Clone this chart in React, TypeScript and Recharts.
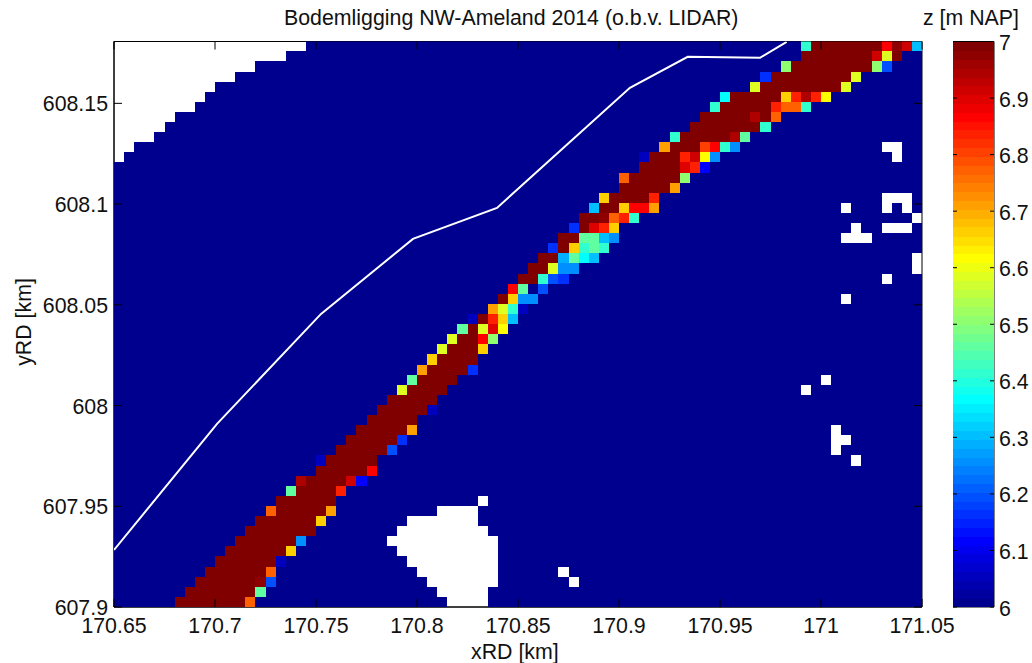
import React from 'react';
import { ScatterChart, Scatter, XAxis, YAxis, ReferenceArea } from 'recharts';

const FONT = '"Liberation Sans", Arial, sans-serif';
const W = 1032, H = 663;
const PL = 114, PR = 922, PT = 41.5, PB = 607;
const CBL = 953, CBR = 994;

const xTicks = [170.65, 170.7, 170.75, 170.8, 170.85, 170.9, 170.95, 171, 171.05];
const yTicks = [607.9, 607.95, 608, 608.05, 608.1, 608.15];
const cTicks = [6, 6.1, 6.2, 6.3, 6.4, 6.5, 6.6, 6.7, 6.8, 6.9, 7];
const X0 = 170.65, Y0 = 607.9, STEP_X = 0.005, STEP_Y = 0.005015, NCOL = 80, NROW = 56;
const Y_TOP = 608.1807;

// z value for each symbol used in bandCells
const zBySymbol: Record<string, number> = {
  '.': 6, d: 6.05, n: 6.12, N: 6.16, B: 6.2, b: 6.265, a: 6.29, s: 6.31, c: 6.37, t: 6.42,
  G: 6.46, g: 6.515, l: 6.58, Y: 6.62, y: 6.66, O: 6.71, o: 6.78, h: 6.81, '1': 6.84,
  r: 6.87, S: 6.9, R: 6.92, D: 6.95, E: 6.98, M: 7,
};
// first column of the dune band for each row, bottom row first
const bandStart = [6, 7, 8, 9, 10, 11, 12, 13, 14, 15, 16, 17, 18, 20, 20, 22, 23, 24, 25, 26, 27, 28, 29, 30, 31, 32, 33, 34, 35, 37, 38, 39, 40, 41, 42, 43, 44, 45, 46, 47, 48, 50, 50, 52, 52, 54, 55, 57, 58, 59, 60, 63, 64, 66, 68, 68];
const bandCells = [
  'MMMMMMMo', 'MMMMMMMG', 'MMMMMMEB', 'MMMMMMo', 'MMMMMMd', 'MMMMMMy', 'MMMMMMb', 'MMMMMMM',
  'MMMMMMy', 'oMMMMMO', 'MMMMMM', 'GMMMM1', 'DMMMMRn', 'MMMMMr', 'dMMMMM', 'MMMMMB',
  'MMMMMN', 'MMMMMO', 'MMMMM', 'MMMMMd', 'MMMMM', 'lMMMM', 'GMMMM', 'OMMMMN',
  'yMMMM', 'lMMMy', 'lMMrg', 'GMlSY', 'dM1ys', 'Oltd', 'Mybb', 'rG.B',
  'MMtBN', 'MMlbb', 'MMaGcs', 'NMytGt', 'MMGGsb', 'NMS1y', 'MMEo1t', 'sMMyrrO',
  'yMMMM1', 'MMMMMO', 'oMMMMMg', 'MMMMS1n', 'dMMM1RYb', 'OMMMhrtb', 'tMMMMMDG', 'MMMMMMMt',
  'MMMMMDMo', 'tMMMMM1oot', 'cMMMMMy1D1Y', 'lMMMMMMMMl', 'NMMMMMMMMl', 'gMMMMMMMMgB', 'MMMMMMMRlM', 'tMMMMMMMrERs',
];
// cells without data: [row, first column, last column]
const gaps = [
  [55, 0, 18], [54, 0, 16], [53, 0, 13], [52, 0, 11], [51, 0, 9], [50, 0, 8], [49, 0, 7], [48, 0, 5], [47, 0, 4], [46, 0, 3], [45, 0, 1], [44, 0, 0],
  [10, 36, 36], [9, 32, 35], [8, 29, 35], [7, 28, 36], [6, 27, 37], [5, 28, 37], [4, 29, 37], [3, 30, 37], [2, 31, 37], [1, 32, 36], [0, 33, 36],
  [3, 44, 44], [2, 45, 45],
  [21, 68, 68], [22, 70, 70], [17, 71, 71], [16, 71, 72], [15, 71, 71], [14, 73, 73],
  [45, 76, 77], [44, 77, 77], [40, 76, 78], [39, 76, 76], [39, 78, 78], [38, 79, 79], [37, 76, 78],
  [39, 72, 72], [37, 73, 73], [36, 72, 74], [34, 79, 79], [33, 79, 79], [32, 76, 76], [30, 72, 72],
];
const lineX = [170.65, 170.701, 170.7525, 170.798, 170.8396, 170.9054, 170.934, 170.9698, 170.983];
const lineY = [607.9283, 607.9909, 608.0455, 608.0827, 608.0981, 608.1577, 608.1731, 608.1726, 608.1805];
const colorLevels = [6.008, 6.023, 6.039, 6.055, 6.070, 6.086, 6.102, 6.117, 6.133, 6.148, 6.164, 6.180, 6.195, 6.211, 6.227, 6.242, 6.258, 6.273, 6.289, 6.305, 6.320, 6.336, 6.352, 6.367, 6.383, 6.398, 6.414, 6.430, 6.445, 6.461, 6.477, 6.492, 6.508, 6.523, 6.539, 6.555, 6.570, 6.586, 6.602, 6.617, 6.633, 6.648, 6.664, 6.680, 6.695, 6.711, 6.727, 6.742, 6.758, 6.773, 6.789, 6.805, 6.820, 6.836, 6.852, 6.867, 6.883, 6.898, 6.914, 6.930, 6.945, 6.961, 6.977, 6.992];

function jet(z: number): string {
  const idx = Math.max(0, Math.min(63, Math.floor((z - 6) * 64)));
  const v = (idx + 1) / 64;
  const ch = (c: number) => Math.round(255 * Math.max(0, Math.min(1, 1.5 - Math.abs(4 * v - c))));
  return `rgb(${ch(3)},${ch(2)},${ch(1)})`;
}

const isGap = (r: number, c: number) => gaps.some(([gr, a, b]) => gr === r && c >= a && c <= b);
const cells: { x: number; y: number; z: number }[] = [];
for (let r = 0; r < NROW; r++) {
  for (let c = 0; c < NCOL; c++) {
    if (isGap(r, c)) continue;
    const sym = bandCells[r][c - bandStart[r]];
    cells.push({ x: X0 + STEP_X * (c + 0.5), y: Y0 + STEP_Y * (r + 0.5), z: sym ? zBySymbol[sym] : zBySymbol['.'] });
  }
}
const shoreline = lineX.map((x, i) => ({ x, y: lineY[i] }));
const colorCells = colorLevels.map((y) => ({ x: 0.5, y, z: y }));

const CW = (PR - PL) / NCOL;
const CH = (PB - PT) / NROW;
const Cell = (p: any) => (
  <rect x={p.cx - CW / 2} y={p.cy - CH / 2} width={CW} height={CH} fill={jet(p.payload.z)} shapeRendering="crispEdges" />
);
const CBH = (PB - PT) / colorLevels.length;
const CB = (p: any) => (
  <rect x={0} y={p.cy - CBH / 2} width={CBR - CBL} height={CBH + 0.6} fill={jet(p.payload.z)} shapeRendering="crispEdges" />
);

const TICK_FS = 21.33;
const TEXT = '#111';
const XTick = (p: any) => (
  <g>
    <line x1={p.x} x2={p.x} y1={PB} y2={PB - 8} stroke="#000" />
    <line x1={p.x} x2={p.x} y1={PT} y2={PT + 8} stroke="#000" />
    <text x={p.x} y={633} textAnchor="middle" fontFamily={FONT} fontSize={TICK_FS} fill={TEXT}>{String(p.payload.value)}</text>
  </g>
);
const YTick = (p: any) => (
  <g>
    <line x1={PL} x2={PL + 8} y1={p.y} y2={p.y} stroke="#000" />
    <line x1={PR} x2={PR - 8} y1={p.y} y2={p.y} stroke="#000" />
    <text x={108} y={p.y + 8} textAnchor="end" fontFamily={FONT} fontSize={TICK_FS} fill={TEXT}>{String(p.payload.value)}</text>
  </g>
);
const CTick = (p: any) => (
  <g>
    <line x1={0} x2={4} y1={p.y} y2={p.y} stroke="#000" />
    <line x1={CBR - CBL} x2={CBR - CBL - 4} y1={p.y} y2={p.y} stroke="#000" />
    <text x={CBR - CBL + 5} y={p.y + 8.5} fontFamily={FONT} fontSize={TICK_FS} fill={TEXT}>{String(p.payload.value)}</text>
  </g>
);

const labelStyle: React.CSSProperties = {
  position: 'absolute', fontFamily: FONT, whiteSpace: 'nowrap', color: TEXT, lineHeight: 1, fontSize: 21.33,
};

export default function App() {
  return (
    <div style={{ position: 'absolute', left: 0, top: 0, width: W, height: H, background: '#fff', overflow: 'hidden' }}>
      <div style={{ position: 'absolute', left: 0, top: 0 }}>
        <ScatterChart width={W} height={H} margin={{ left: 0, right: W - PR, top: PT, bottom: 0 }}>
          <XAxis dataKey="x" type="number" domain={[170.65, 171.05]} ticks={xTicks} height={H - PB} interval={0}
            tick={XTick} tickLine={false} axisLine={{ stroke: '#000' }} allowDataOverflow />
          <YAxis dataKey="y" type="number" domain={[607.9, Y_TOP]} ticks={yTicks} width={PL} interval={0}
            tick={YTick} tickLine={false} axisLine={{ stroke: '#000' }} allowDataOverflow />
          <Scatter data={cells} shape={Cell} isAnimationActive={false} />
          <Scatter data={shoreline} line={{ stroke: '#fff', strokeWidth: 2 }} shape={() => null} isAnimationActive={false} />
          <ReferenceArea x1={170.65} x2={171.05} y1={607.9} y2={Y_TOP} fill="none" stroke="#000" fillOpacity={0} />
        </ScatterChart>
      </div>
      <div style={{ position: 'absolute', left: CBL, top: 0 }}>
        <ScatterChart width={W - CBL} height={H} margin={{ left: 0, right: 0, top: PT, bottom: H - PB }}>
          <XAxis dataKey="x" type="number" domain={[0, 1]} hide />
          <YAxis dataKey="y" type="number" orientation="right" domain={[6, 7]} ticks={cTicks} width={W - CBR} interval={0}
            tick={CTick} tickLine={false} axisLine={false} />
          <Scatter data={colorCells} shape={CB} isAnimationActive={false} />
          <ReferenceArea x1={0} x2={1} y1={6} y2={7} fill="none" stroke="#000" fillOpacity={0} />
        </ScatterChart>
      </div>
      <div style={{ ...labelStyle, left: 284, top: 8 }}>Bodemligging NW-Ameland 2014 (o.b.v. LIDAR)</div>
      <div style={{ ...labelStyle, left: 923, top: 8 }}>z [m NAP]</div>
      <div style={{ ...labelStyle, left: 471, top: 642 }}>xRD [km]</div>
      <div style={{ ...labelStyle, left: 25, top: 322, transform: 'translate(-50%,-50%) rotate(-90deg)' }}>yRD [km]</div>
    </div>
  );
}
